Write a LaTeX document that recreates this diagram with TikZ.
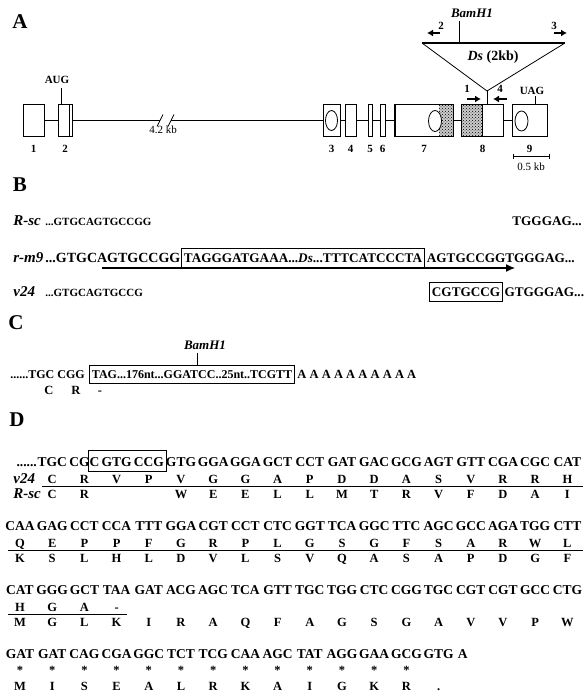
\documentclass[tikz,border=0pt]{standalone}
\usepackage{fontspec}
\setmainfont{Liberation Serif}
\usetikzlibrary{arrows.meta,positioning,patterns}

\begin{document}
\begin{tikzpicture}[x=1pt, y=-1pt, line width=0.8pt, every node/.style={inner sep=0pt}, >={Latex[length=7pt,width=7pt]},
	panel/.style={font=\fontsize{21}{21}\selectfont\bfseries},
	exon/.style={draw, fill=white, line width=1pt, minimum height=31pt},
	stip/.style={pattern=crosshatch dots, pattern color=black},
	lbl/.style={font=\fontsize{11}{11}\selectfont\bfseries},
	primer/.style={->, line width=2pt, >={Latex[length=6pt,width=7pt]}},
	allele/.style={anchor=base west, font=\fontsize{15}{15}\selectfont\bfseries\itshape},
	seqs/.style={anchor=base west, font=\fontsize{11}{11}\selectfont\bfseries},
	seqb/.style={anchor=base west, font=\fontsize{13.2}{13.2}\selectfont\bfseries},
	seqc/.style={anchor=base west, font=\fontsize{12}{12}\selectfont\bfseries},
	codon/.style={anchor=base, font=\fontsize{13.5}{13.5}\selectfont\bfseries},
	aa/.style={anchor=base, font=\fontsize{12.5}{12.5}\selectfont\bfseries},
	seqbox/.style={draw, line width=0.9pt, inner xsep=2.5pt, inner ysep=5pt}]
	\path[use as bounding box, fill=white] (0,0) rectangle (587,698);

	% A: gene
	\node[panel] (pA) at (20,22) {A};
	\foreach \n/\x/\w in {1/33.5/21, 2/65/14, 3/331.5/17, 4/350.5/11, 5/370/4, 6/382.5/5, 7/424/58, 8/482.5/41, 9/529.5/35} {
		\node[exon, minimum width=\w*1pt] (e\n) at (\x,120.5) {};
		\node[lbl, anchor=base] (n\n) at (\x,152) {\n};
	}
	\coordinate (brkA) at (160,120.5);
	\coordinate (brkB) at (171,120.5);
	\draw (e1) -- (e2);
	\draw (e2) -- (brkA);
	\draw (brkB) -- (e3);
	\foreach \a/\b in {3/4,4/5,5/6,6/7,7/8,8/9} \draw (e\a) -- (e\b);
	\draw (brkA) ++(-3,6) -- ++(6,-12);
	\draw (brkB) ++(-3,6) -- ++(6,-12);
	\node[font=\fontsize{11}{11}\selectfont] (kb42) at (163,130) {4.2 kb};
	\draw ([xshift=-3pt]e2.north east) -- ([xshift=-3pt]e2.south east);
	\fill[black!20] ([xshift=-15pt]e7.north east) rectangle (e7.south east);
	\fill[stip] ([xshift=-15pt]e7.north east) rectangle (e7.south east);
	\fill[black!20] (e8.north west) rectangle ([xshift=21pt]e8.south west);
	\fill[stip] (e8.north west) rectangle ([xshift=21pt]e8.south west);
	\draw[line width=1pt] ([xshift=21pt]e8.north west) -- ([xshift=21pt]e8.south west);
	\draw[line width=1pt] (e7.north west) rectangle (e7.south east);
	\draw[line width=1pt] (e8.north west) rectangle (e8.south east);
	\draw[fill=white] (e3) ellipse [x radius=6pt, y radius=10pt];
	\draw[fill=white] (435,121) ellipse [x radius=6.5pt, y radius=10.5pt];
	\draw[fill=white] (521.5,121) ellipse [x radius=6.5pt, y radius=10pt];
	\node[lbl] (aug) at (57,80) {AUG};
	\draw ([xshift=-4pt]e2.north) -- ++(0,-16);
	\node[lbl] (uag) at (532,91) {UAG};
	\draw ([xshift=5.5pt]e9.north) -- ++(0,-8);
	% Ds insertion
	\coordinate (dsL) at (422,43);
	\coordinate (dsR) at (565,43);
	\coordinate (apex) at (487,91);
	\draw (dsL) -- (apex) -- (dsR);
	\draw[line width=1.6pt] (dsL) -- (dsR);
	\draw (apex) -- (apex |- e8.north);
	\node[font=\fontsize{14}{14}\selectfont\bfseries] (ds) at (493,57) {\textit{Ds} (2kb)};
	\node[font=\fontsize{13}{13}\selectfont\bfseries\itshape] (bamA) at (472,13) {BamH1};
	\draw[line width=0.5pt] ([xshift=-13pt,yshift=-3pt]bamA.south) -- ([xshift=-13pt]bamA.south |- dsL);
	\coordinate (p2) at (440,33);
	\coordinate (p3) at (554,33);
	\coordinate (p1) at (467,99);
	\coordinate (p4) at (507,99);
	\draw[primer] (p2) -- ++(-13,0);
	\draw[primer] (p3) -- ++(13,0);
	\draw[primer] (p1) -- ++(14,0);
	\draw[primer] (p4) -- ++(-14,0);
	\node[lbl] (l2) at (441,26) {2};
	\node[lbl] (l3) at (554,26) {3};
	\node[lbl] (l1) at (467,89) {1};
	\node[lbl] (l4) at (500,89) {4};
	\coordinate (sbL) at (513,156);
	\coordinate (sbR) at (549,156);
	\draw[line width=0.6pt] (sbL) -- (sbR);
	\draw[line width=0.6pt] (sbL) ++(0,-2.5) -- ++(0,5);
	\draw[line width=0.6pt] (sbR) ++(0,-2.5) -- ++(0,5);
	\node[font=\fontsize{11}{11}\selectfont] (sb) at (531,167) {0.5 kb};

	% B: footprints
	\node[panel] (pB) at (20,185) {B};
	\node[allele] (rsc) at (13,225) {R-sc};
	\node[seqs] (rscL) at (45,225) {...GTGCAGTGCCGG};
	\node[seqb] (rscR) at (512,225) {TGGGAG...};
	\node[allele] (rm9) at (13,262) {r-m9};
	\node[seqb, font=\fontsize{14}{14}\selectfont\bfseries] (rm9L) at (45,262) {...GTGCAGTGCCGG};
	\node[seqb, seqbox] (rm9box) at (181,262) {TAGGGATGAAA...\textit{Ds}...TTTCATCCCTA};
	\node[seqb] (rm9R) at ([xshift=1.5pt]rm9box.base east) {AGTGCCGGTGGGAG...};
	\coordinate (tsdL) at (102,268);
	\coordinate (tsdR) at (515,268);
	\draw[->, line width=1.2pt, >={Latex[length=9pt,width=8pt]}] (tsdL) -- (tsdR);
	\node[allele] (v24) at (13,296) {v24};
	\node[seqs] (v24L) at (45,296) {...GTGCAGTGCCG};
	\node[seqb, seqbox] (v24box) at (429,296) {CGTGCCG};
	\node[seqb] (v24R) at ([xshift=1pt]v24box.base east) {GTGGGAG...};

	% C: cDNA
	\node[panel] (pC) at (16,323) {C};
	\node[font=\fontsize{13}{13}\selectfont\bfseries\itshape] (bamC) at (205,345) {BamH1};
	\node[seqc] (cL) at (10,378) {......TGC CGG};
	\node[seqc, seqbox] (cbox) at (89,378) {TAG...176nt...GGATCC..25nt..TCGTT};
	\foreach \i in {0,...,9}
		\node[seqc, font=\fontsize{12.5}{12.5}\selectfont\bfseries] (polyA-\i) at ({297+\i*12.2},378) {A};
	\draw[line width=0.6pt] ([xshift=-8pt,yshift=-3pt]bamC.south) -- ([xshift=-8pt]bamC.south |- cbox.north);
	\foreach \r/\x in {C/49, R/76, -/100} \node[aa] at (\x,394) {\r};

	% D: translation
	\node[panel] (pD) at (17,420) {D};
	\foreach \c [count=\i] in {TGC,CGC,GTG,CCG,GTG,GGA,GGA,GCT,CCT,GAT,GAC,GCG,AGT,GTT,CGA,CGC,CAT}
		\node[codon] (nt1-\i) at ({20+\i*32.2},466) {\c};
	\foreach \r [count=\i] in {C,R,V,P,V,G,G,A,P,D,D,A,S,V,R,R,H}
		\node[aa] (v1-\i) at ({20+\i*32.2},483) {\r};
	\foreach \r [count=\i] in {C,R,{},{},W,E,E,L,L,M,T,R,V,F,D,A,I}
		\node[aa] (r1-\i) at ({20+\i*32.2},498) {\r};
	\node[codon, anchor=base east] (dots) at (nt1-1.base west) {......};
	\draw ([xshift=-11.5pt,yshift=6pt]nt1-2.north east) rectangle ([xshift=2pt,yshift=-5pt]nt1-4.south east);
	\node[allele] (v24d) at (13,483) {v24};
	\node[allele] (rscd) at (13,498) {R-sc};
	\draw (42,486) -- (583,486);

	\foreach \c [count=\i] in {CAA,GAG,CCT,CCA,TTT,GGA,CGT,CCT,CTC,GGT,TCA,GGC,TTC,AGC,GCC,AGA,TGG,CTT}
		\node[codon] (nt2-\i) at ({-12.2+\i*32.2},530) {\c};
	\foreach \r [count=\i] in {Q,E,P,P,F,G,R,P,L,G,S,G,F,S,A,R,W,L}
		\node[aa] (v2-\i) at ({-12.2+\i*32.2},547) {\r};
	\foreach \r [count=\i] in {K,S,L,H,L,D,V,L,S,V,Q,A,S,A,P,D,G,F}
		\node[aa] (r2-\i) at ({-12.2+\i*32.2},562) {\r};
	\draw (8,550) -- (583,550);

	\foreach \c [count=\i] in {CAT,GGG,GCT,TAA,GAT,ACG,AGC,TCA,GTT,TGC,TGG,CTC,CGG,TGC,CGT,CGT,GCC,CTG}
		\node[codon] (nt3-\i) at ({-12.2+\i*32.2},594) {\c};
	\foreach \r [count=\i] in {H,G,A,-}
		\node[aa] (v3-\i) at ({-12.2+\i*32.2},611) {\r};
	\foreach \r [count=\i] in {M,G,L,K,I,R,A,Q,F,A,G,S,G,A,V,V,P,W}
		\node[aa] (r3-\i) at ({-12.2+\i*32.2},626) {\r};
	\draw (8,614) -- (127,614);

	\foreach \c [count=\i] in {GAT,GAT,CAG,CGA,GGC,TCT,TCG,CAA,AGC,TAT,AGG,GAA,GCG,GTG}
		\node[codon] (nt4-\i) at ({-12.2+\i*32.2},658) {\c};
	\node[codon, anchor=base west] (nt4-end) at ([xshift=3.5pt]nt4-14.base east) {A};
	\foreach \i in {1,...,13}
		\node[aa] (st-\i) at ({-12.2+\i*32.2},674) {*};
	\foreach \r [count=\i] in {M,I,S,E,A,L,R,K,A,I,G,K,R,.}
		\node[aa] (r4-\i) at ({-12.2+\i*32.2},690) {\r};
\end{tikzpicture}
\end{document}
